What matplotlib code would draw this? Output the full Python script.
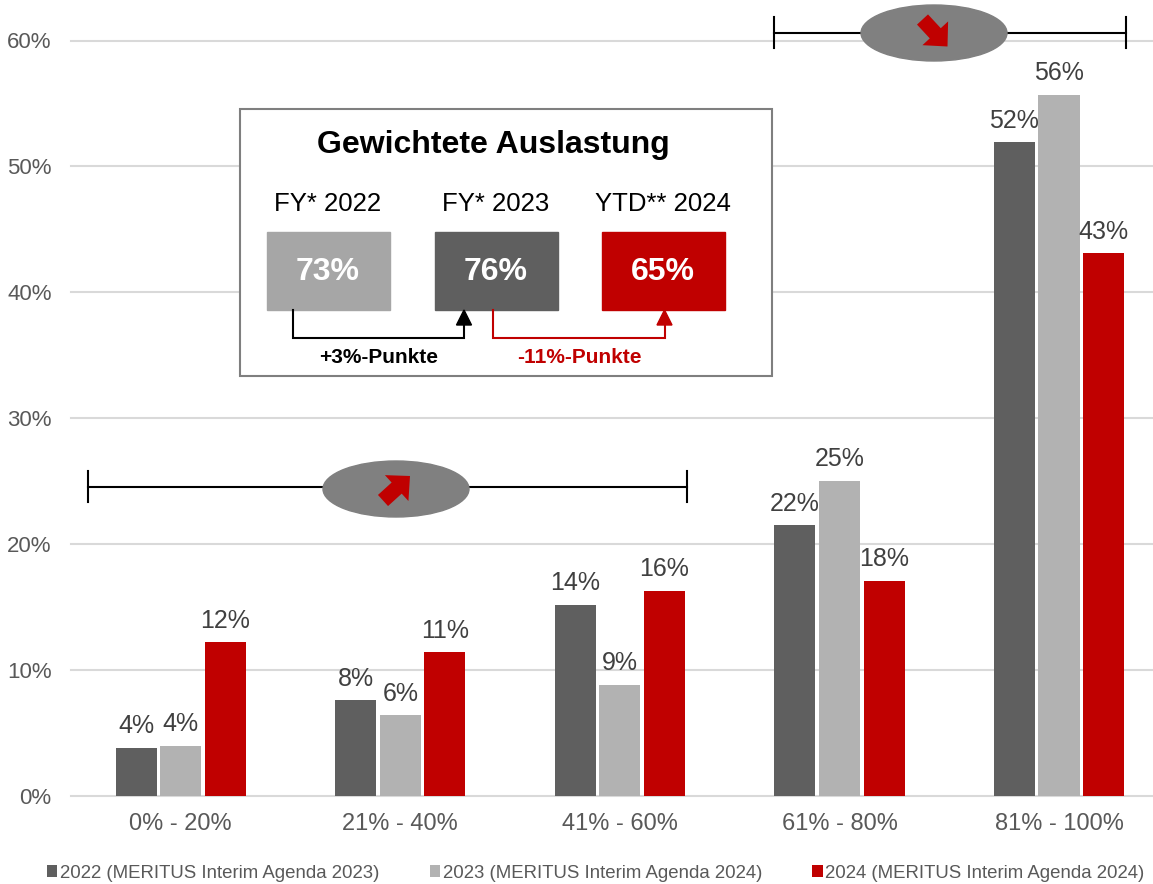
import matplotlib.pyplot as plt
import matplotlib.patches as mpatches
import numpy as np

plt.rcParams['font.family'] = ['Liberation Sans', 'DejaVu Sans']

categories = ['0% - 20%', '21% - 40%', '41% - 60%', '61% - 80%', '81% - 100%']
series_names = ['2022 (MERITUS Interim Agenda 2023)',
                '2023 (MERITUS Interim Agenda 2024)',
                '2024 (MERITUS Interim Agenda 2024)']
values_2022 = [3.8, 7.6, 15.2, 21.5, 51.9]
values_2023 = [4.0, 6.4, 8.8, 25.0, 55.7]
values_2024 = [12.2, 11.4, 16.3, 17.1, 43.1]
labels_2022 = ['4%', '8%', '14%', '22%', '52%']
labels_2023 = ['4%', '6%', '9%', '25%', '56%']
labels_2024 = ['12%', '11%', '16%', '18%', '43%']
colors = ['#5F5F5F', '#B2B2B2', '#C00000']

inset_title = 'Gewichtete Auslastung'
inset_periods = ['FY* 2022', 'FY* 2023', 'YTD** 2024']
inset_values = ['73%', '76%', '65%']
inset_colors = ['#A6A6A6', '#5F5F5F', '#C00000']
inset_deltas = ['+3%-Punkte', '-11%-Punkte']
delta_colors = ['black', '#C00000']

W, H = 1153, 884
fig = plt.figure(figsize=(W / 100, H / 100), dpi=100)
ax = fig.add_axes([71 / W, (H - 796) / H, (W - 71) / W, (796 - 40.5) / H])

x = np.arange(len(categories))
offsets = [-0.203, 0.0, 0.203]
all_values = [values_2022, values_2023, values_2024]
all_labels = [labels_2022, labels_2023, labels_2024]
handles = []
for vals, labs, col, off, name in zip(all_values, all_labels, colors, offsets, series_names):
    bars = ax.bar(x + off, vals, 0.187, color=col, label=name, zorder=3)
    handles.append(bars)
    for bar, lab in zip(bars, labs):
        ax.annotate(lab, (bar.get_x() + bar.get_width() / 2, bar.get_height()),
                    xytext=(0, 7), textcoords='offset points', ha='center', va='bottom',
                    fontsize=18, color='#404040')

ax.set_ylim(0, 60)
ax.set_xlim(-0.5, 4.428)
ax.set_yticks(range(0, 61, 10))
ax.set_yticklabels(['%d%%' % v for v in range(0, 61, 10)])
ax.set_xticks(x)
ax.set_xticklabels(categories)
ax.tick_params(axis='y', length=0, pad=14, labelsize=16, labelcolor='#595959')
ax.tick_params(axis='x', length=0, pad=12, labelsize=17, labelcolor='#595959')
ax.grid(axis='y', color='#D9D9D9', linewidth=1.5, zorder=0)
for gl in ax.get_ygridlines():
    gl.set_clip_on(False)
ax.set_axisbelow(True)
for s in ax.spines.values():
    s.set_visible(False)

fig.legend(handles=handles, loc='center left', bbox_to_anchor=(47 / W, (H - 873) / H),
           ncol=3, frameon=False, fontsize=13.4, handlelength=0.55, handleheight=0.55,
           handletextpad=0.15, columnspacing=2.7, borderpad=0, borderaxespad=0,
           labelcolor='#595959')

# overlay in pixel coordinates for the annotations
ov = fig.add_axes([0, 0, 1, 1], zorder=5)
ov.set_xlim(0, W)
ov.set_ylim(H, 0)
ov.axis('off')
ov.patch.set_alpha(0)


def bracket(x0, x1, y, cx, cy, tail, tip):
    ov.plot([x0, x1], [y, y], color='black', lw=1.5, zorder=1)
    ov.plot([x0, x0], [y - 16, y + 15], color='black', lw=1.5, zorder=1)
    ov.plot([x1, x1], [y - 16, y + 15], color='black', lw=1.5, zorder=1)
    ov.add_patch(mpatches.Ellipse((cx, cy), 146, 56, color='#808080', zorder=2))
    ov.add_patch(mpatches.FancyArrow(tail[0], tail[1], tip[0] - tail[0], tip[1] - tail[1],
                                     width=15, head_width=35, head_length=18,
                                     length_includes_head=True, color='#C00000',
                                     linewidth=0, zorder=3))


bracket(774, 1126, 32.5, 934, 33, (922.5, 19.5), (947.5, 46.5))
bracket(88, 687, 487, 396, 489, (383, 500.5), (410, 476))

# inset box
ov.add_patch(mpatches.Rectangle((240, 109), 532, 267, facecolor='white',
                                edgecolor='#7F7F7F', lw=1.5, zorder=1))
ov.text(493, 145, inset_title, ha='center', va='center', fontsize=23,
        fontweight='bold', color='black', zorder=2)
box_centers = [328, 496, 663]
for cx, period, val, col in zip(box_centers, inset_periods, inset_values, inset_colors):
    ov.text(cx, 204, period, ha='center', va='center', fontsize=18.5, color='black', zorder=2)
    ov.add_patch(mpatches.Rectangle((cx - 61.5, 232), 123, 78, color=col, zorder=2))
    ov.text(cx, 272, val, ha='center', va='center', fontsize=23, fontweight='bold',
            color='white', zorder=3)

connectors = [(293, 464), (493, 664.5)]
delta_x = [379, 579.5]
for (xa, xb), dcol, dtxt, dx in zip(connectors, delta_colors, inset_deltas, delta_x):
    ov.plot([xa, xa, xb, xb], [310, 337.5, 337.5, 324], color=dcol, lw=1.5,
            solid_joinstyle='miter', zorder=2)
    ov.add_patch(mpatches.Polygon([[xb - 7.5, 325], [xb + 7.5, 325], [xb, 310]],
                                  color=dcol, zorder=2))
    ov.text(dx, 357.5, dtxt, ha='center', va='center', fontsize=15, fontweight='bold',
            color=dcol, zorder=2)

fig.savefig('out.png', dpi=100)
